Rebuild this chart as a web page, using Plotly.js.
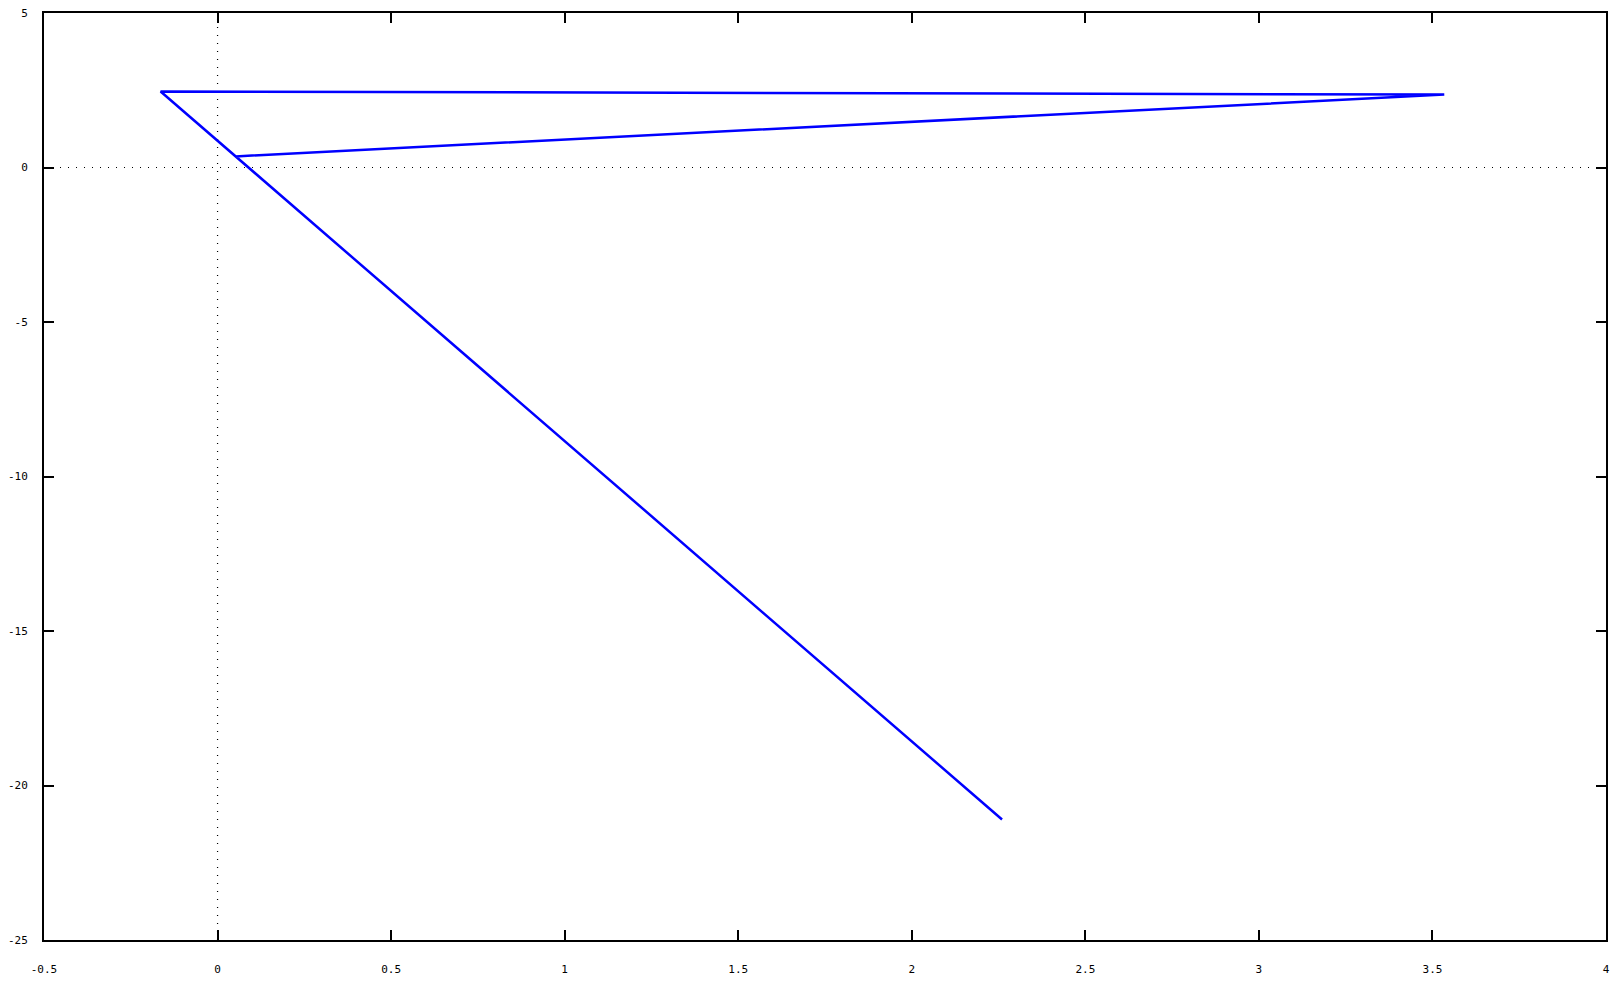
<!DOCTYPE html>
<html>
<head>
<meta charset="utf-8">
<script src="https://cdn.plot.ly/plotly-3.0.1.min.js"></script>
<style>
  html, body { margin: 0; padding: 0; background: #fff; }
  #plot { width: 1617px; height: 981px; }
</style>
</head>
<body>
<div id="plot"></div>
<script>
// path
const xValues = [2.26, -0.164, 3.534, 0.052];
const yValues = [-21.1, 2.46, 2.36, 0.36];

const xTicks = [-0.5, 0, 0.5, 1, 1.5, 2, 2.5, 3, 3.5, 4];
const yTicks = [-25, -20, -15, -10, -5, 0, 5];

const axisStyle = {
  showline: true,
  linecolor: '#000',
  linewidth: 2,
  mirror: 'ticks',
  ticks: 'inside',
  ticklen: 10,
  tickwidth: 2,
  tickcolor: '#000',
  showgrid: false,
  zeroline: false,
  tickfont: { family: 'DejaVu Sans Mono', size: 11, color: '#000' },
};

Plotly.newPlot(
  'plot',
  [
    {
      x: xValues,
      y: yValues,
      mode: 'lines',
      type: 'scatter',
      line: { color: '#0000ff', width: 2.5 },
      showlegend: false,
    },
  ],
  {
    width: 1617,
    height: 981,
    margin: { l: 44, r: 11, t: 13, b: 41 },
    paper_bgcolor: '#fff',
    plot_bgcolor: '#fff',
    xaxis: Object.assign({}, axisStyle, {
      range: [-0.5, 4],
      tickvals: xTicks,
      ticktext: xTicks.map(String),
      ticklabelstandoff: 18,
    }),
    yaxis: Object.assign({}, axisStyle, {
      range: [-25, 5],
      tickvals: yTicks,
      ticktext: yTicks.map(String),
      ticklabelstandoff: 12,
    }),
    shapes: [
      {
        type: 'line', xref: 'x', yref: 'paper',
        x0: 0, x1: 0, y0: 0, y1: 1,
        line: { color: '#000', width: 1.2, dash: '1px,7px' },
        layer: 'below',
      },
      {
        type: 'line', xref: 'paper', yref: 'y',
        x0: 0, x1: 1, y0: 0, y1: 0,
        line: { color: '#000', width: 1.2, dash: '1px,7px' },
        layer: 'below',
      },
    ],
  },
  { displayModeBar: false }
);
</script>
</body>
</html>
